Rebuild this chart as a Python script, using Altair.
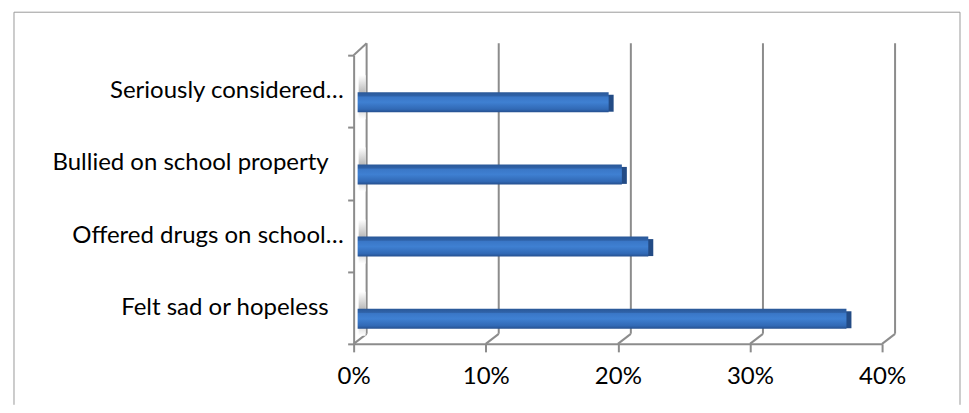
import altair as alt
import pandas as pd

# ---- data ----
categories = [
    "Seriously considered…",
    "Bullied on school property",
    "Offered drugs on school…",
    "Felt sad or hopeless",
]
values = [0.19, 0.20, 0.22, 0.37]
tick_values = [0.0, 0.1, 0.2, 0.3, 0.4]

df = pd.DataFrame({"item": categories, "pct": values})
tick_df = pd.DataFrame({"t": tick_values})
one = pd.DataFrame({"a": [1]})

W, H = 529, 289
FONT = "Lato"
FS = 24
GRID = "#8c8c8c"
BORDER = "#9a9a9a"

xscale = alt.Scale(domain=[0, 0.4], nice=False, zero=True)
yscale = alt.Scale(domain=categories, paddingInner=0, paddingOuter=0)

xaxis = alt.Axis(
    values=tick_values, format=".0%", grid=False, title=None, labelFlush=False,
    domainColor=GRID, domainWidth=2, tickColor=GRID, tickWidth=2, tickSize=8,
    labelFont=FONT, labelFontSize=FS, labelColor="#000000", labelPadding=13,
)
yaxis = alt.Axis(
    grid=False, title=None, tickBand="extent", labels=False,
    domainColor=GRID, domainWidth=2, tickColor=GRID, tickWidth=2, tickSize=6,
)

bar_grad = alt.Gradient(
    gradient="linear", x1=0, x2=0, y1=0, y2=1,
    stops=[
        alt.GradientStop(offset=0.0, color="#2a5898"),
        alt.GradientStop(offset=0.18, color="#2f62a8"),
        alt.GradientStop(offset=0.24, color="#3a77c7"),
        alt.GradientStop(offset=0.5, color="#3f80d2"),
        alt.GradientStop(offset=0.85, color="#3169b5"),
        alt.GradientStop(offset=1.0, color="#254f8e"),
    ],
)
shadow_grad = alt.Gradient(
    gradient="linear", x1=0, x2=0, y1=0, y2=1,
    stops=[
        alt.GradientStop(offset=0.0, color="#ffffff"),
        alt.GradientStop(offset=0.4, color="#b8b8b8"),
        alt.GradientStop(offset=0.7, color="#cccccc"),
        alt.GradientStop(offset=1.0, color="#ffffff"),
    ],
)

# chart frame (left, top, right edges)
frame_left = alt.Chart(one).mark_rule(color=BORDER, strokeWidth=1).encode(
    x=alt.value(-340), y=alt.value(-43), y2=alt.value(350))
frame_top = alt.Chart(one).mark_rule(color=BORDER, strokeWidth=1).encode(
    x=alt.value(-340), x2=alt.value(607), y=alt.value(-43))
frame_right = alt.Chart(one).mark_rule(color=BORDER, strokeWidth=1).encode(
    x=alt.value(607), y=alt.value(-43), y2=alt.value(350))

# back-wall gridlines
grid = alt.Chart(tick_df).mark_rule(color=GRID, strokeWidth=2, xOffset=13).encode(
    x=alt.X("t:Q", scale=xscale, axis=xaxis),
    y=alt.value(-12), y2=alt.value(279),
)
# floor diagonals
diag = alt.Chart(tick_df).mark_rule(color=GRID, strokeWidth=2, x2Offset=13).encode(
    x=alt.X("t:Q", scale=xscale, axis=xaxis),
    x2=alt.X2("t"),
    y=alt.value(H), y2=alt.value(H - 10),
)
# left wall top diagonal
wall_top = alt.Chart(one).mark_rule(color=GRID, strokeWidth=2).encode(
    x=alt.value(0), x2=alt.value(13), y=alt.value(0), y2=alt.value(-12))

# shadows on the side wall
shadow = alt.Chart(df).transform_calculate(zero="0").mark_bar(
    size=44, yOffset=6, xOffset=5, x2Offset=12, color=shadow_grad
).encode(
    x=alt.X("zero:Q", scale=xscale, axis=xaxis),
    x2=alt.X2("zero"),
    y=alt.Y("item:N", scale=yscale, sort=categories, axis=yaxis),
)

bars = alt.Chart(df).mark_bar(size=20, yOffset=11, xOffset=4, x2Offset=4,
                              color=bar_grad).encode(
    x=alt.X("pct:Q", scale=xscale, axis=xaxis),
    y=alt.Y("item:N", scale=yscale, sort=categories, axis=yaxis),
)

caps = alt.Chart(df).mark_bar(size=17, yOffset=12, xOffset=3, x2Offset=9,
                              color="#234b85").encode(
    x=alt.X("pct:Q", scale=xscale, axis=xaxis),
    x2=alt.X2("pct"),
    y=alt.Y("item:N", scale=yscale, sort=categories, axis=yaxis),
)

# category labels (truncated ones sit closer to the axis, as in the original)
label_trunc = alt.Chart(df).transform_filter(
    "indexof(datum.item, '…') >= 0"
).mark_text(align="right", baseline="middle", font=FONT, fontSize=FS,
            color="#000000").encode(
    x=alt.value(-10),
    y=alt.Y("item:N", scale=yscale, sort=categories, axis=yaxis),
    text="item:N",
)
label_full = alt.Chart(df).transform_filter(
    "indexof(datum.item, '…') < 0"
).mark_text(align="right", baseline="middle", font=FONT, fontSize=FS,
            color="#000000").encode(
    x=alt.value(-25),
    y=alt.Y("item:N", scale=yscale, sort=categories, axis=yaxis),
    text="item:N",
)

chart = alt.layer(
    frame_left, frame_top, frame_right, grid, diag, wall_top, shadow,
    caps, bars, label_trunc, label_full
).properties(
    width=W, height=H,
    padding={"left": 5, "top": 3, "right": 0, "bottom": 0},
).configure(
    background="#ffffff", view=alt.ViewConfig(strokeWidth=0, stroke="transparent")
)

chart.save("out.html", embed_options={"renderer": "svg", "actions": False})
